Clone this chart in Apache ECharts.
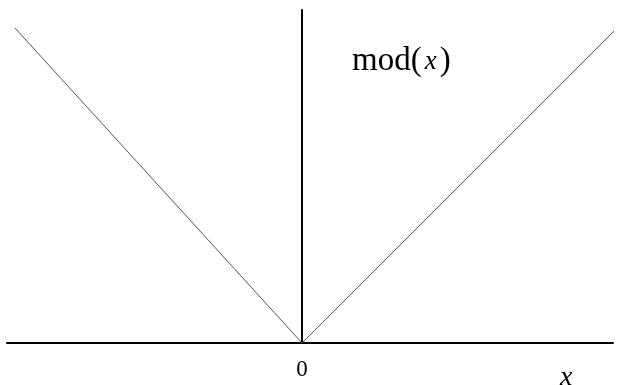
<!DOCTYPE html>
<html>
<head>
<meta charset="utf-8">
<script src="https://cdn.jsdelivr.net/npm/echarts@6/dist/echarts.min.js"></script>
<style>
  html, body { margin: 0; padding: 0; background: #fff; }
  #chart { width: 618px; height: 385px; }
</style>
</head>
<body>
<div id="chart"></div>
<script>
// |x| drawn as two straight pieces meeting at the origin
const xValues = [-0.973, 0, 1.068];
const yValues = [0.946, 0, 0.946];
const tickLabels = ["0"];

const chart = echarts.init(document.getElementById("chart"));

const option = {
	animation: false,
	backgroundColor: "#fff",
	grid: {
		left: 7,
		right: 5,
		top: 10,
		bottom: 42
	},
	xAxis: {
		type: "value",
		min: -1,
		max: 1.054,
		interval: 1,
		axisLine: { lineStyle: { color: "#000", width: 2 } },
		axisTick: { show: false },
		splitLine: { show: false },
		axisLabel: {
			margin: 15,
			color: "#000",
			formatter: (v) => (tickLabels.includes(String(v)) ? "{z|" + v + "}" : ""),
			rich: {
				z: { fontFamily: "Liberation Serif", fontSize: 23, color: "#000" }
			}
		}
	},
	yAxis: {
		type: "value",
		min: 0,
		max: 1,
		axisLine: { show: true, onZero: true, lineStyle: { color: "#000", width: 2 } },
		axisTick: { show: false },
		axisLabel: { show: false },
		splitLine: { show: false }
	},
	series: [
		{
			type: "line",
			data: xValues.map((x, i) => [x, yValues[i]]),
			symbol: "none",
			clip: false,
			lineStyle: { color: "#555", width: 1 }
		}
	],
	graphic: [
		{
			type: "text",
			left: 352,
			top: 45,
			style: {
				text: "{a|mod(}{b|x}{a|)}",
				rich: {
					a: { fontFamily: "Liberation Serif", fontSize: 33, fill: "#000" },
					b: { fontFamily: "Liberation Serif", fontStyle: "italic", fontSize: 27, fill: "#000", padding: [0, 3, 0, 3] }
				}
			}
		},
		{
			type: "text",
			left: 560,
			top: 364,
			style: {
				text: "x",
				fontFamily: "Liberation Serif",
				fontStyle: "italic",
				fontSize: 28,
				fill: "#000"
			}
		}
	]
};

chart.setOption(option);
</script>
</body>
</html>
